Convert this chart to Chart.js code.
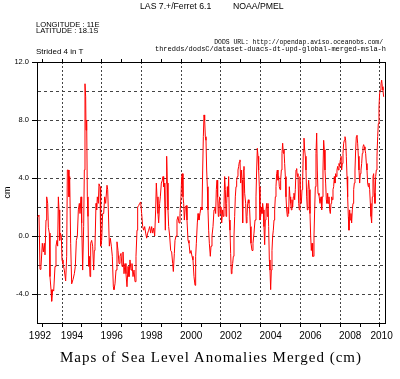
<!DOCTYPE html>
<html>
<head>
<meta charset="utf-8">
<title>Maps of Sea Level Anomalies Merged (cm)</title>
<script src="https://cdn.jsdelivr.net/npm/chart.js@4.4.0/dist/chart.umd.min.js"></script>
<style>
    body { margin: 0; background: #fff; }
    #quadro { position: relative; width: 400px; height: 379px; overflow: hidden; }
    #quadro canvas { position: absolute; left: 0; top: 0; }
    .rotulo { position: absolute; white-space: nowrap; color: #000; font-family: "Liberation Sans", Arial, sans-serif; }
    .mono { font-family: "Liberation Mono", "DejaVu Sans Mono", monospace; }
    .serifa { font-family: "Liberation Serif", "DejaVu Serif", serif; }
</style>
</head>
<body>
<div id="quadro">
    <canvas id="graficoNivelMar" width="400" height="379"></canvas>
    <div class="rotulo" style="left:140px;top:2px;font-size:8.7px;line-height:8.7px">LAS 7.+/Ferret 6.1</div>
    <div class="rotulo" style="left:233px;top:2px;font-size:8.7px;line-height:8.7px">NOAA/PMEL</div>
    <div class="rotulo" style="left:36px;top:20.5px;font-size:7.6px;line-height:7.6px">LONGITUDE : 11E</div>
    <div class="rotulo" style="left:36px;top:27px;font-size:7.6px;line-height:7.6px">LATITUDE : 18.1S</div>
    <div class="rotulo" style="left:36px;top:48px;font-size:8px;line-height:8px">Strided 4 in T</div>
    <div class="rotulo mono" style="right:17px;top:39px;font-size:6.4px;line-height:7px">DODS URL: http://opendap.aviso.oceanobs.com/</div>
    <div class="rotulo mono" style="right:14px;top:45.5px;font-size:7px;line-height:7px">thredds/dodsC/dataset-duacs-dt-upd-global-merged-msla-h</div>
    <div class="rotulo serifa" style="left:211px;top:350px;font-size:15px;line-height:15px;letter-spacing:1px;transform:translateX(-50%)">Maps of Sea Level Anomalies Merged (cm)</div>
</div>
<script>
// anos com marca no eixo (linhas tracejadas nos anos pares)
const yearTicks = [1993, 1994, 1995, 1996, 1997, 1998, 1999, 2000, 2001, 2002, 2003, 2004, 2005, 2006, 2007, 2008, 2009, 2010];
// rotulos dos anos, centrados no trecho visivel de cada ano
const yearLabels = ['1992', '1994', '1996', '1998', '2000', '2002', '2004', '2006', '2008', '2010'];
const yearLabelCenters = [1992.89, 1994.5, 1996.5, 1998.5, 2000.5, 2002.5, 2004.5, 2006.5, 2008.5, 2010.08];
const timeRange = [1992.742, 2010.252];
const cmRange = [-6, 12];

// anomalia do nivel do mar (cm), [ano decimal, valor]
const slaSeries = [
    [1992.776, 1.3], [1992.843, 1.45], [1992.893, -2.3], [1992.943, -2.1], [1993.010, -0.5], [1993.061, -1.1],
    [1993.111, -0.5], [1993.145, -1.3], [1993.195, 1.1], [1993.229, 2.7], [1993.279, 2.25], [1993.312, 0.6],
    [1993.363, 0.2], [1993.396, -2.8], [1993.447, -3.7], [1993.480, -4.5], [1993.530, -3.7], [1993.581, -3.8],
    [1993.648, -2.1], [1993.698, -0.7], [1993.748, -0.3], [1993.782, -0.7], [1993.816, 2.7], [1993.849, 1.8],
    [1993.883, -0.3], [1993.916, 0.2], [1993.966, 0], [1994.000, -1.65], [1994.050, -1.9], [1994.117, -2.35],
    [1994.184, -3.1], [1994.235, -1.4], [1994.268, 4.55], [1994.319, 4.55], [1994.352, 2.7], [1994.386, 4.1],
    [1994.436, -0.5], [1994.486, -3.3], [1994.554, -3.0], [1994.621, -2.6], [1994.671, -2.1], [1994.721, -0.3],
    [1994.772, 0], [1994.822, 1.8], [1994.872, 2.25], [1994.906, 1.55], [1994.956, 2.7], [1994.990, 0.9],
    [1995.040, -2.35], [1995.090, 0.65], [1995.124, 4.55], [1995.157, 10.5], [1995.191, 9.6], [1995.208, 7.3],
    [1995.241, 8.0], [1995.275, 2.7], [1995.308, 1.35], [1995.342, -2.1], [1995.375, -1.4], [1995.409, -2.8],
    [1995.442, -0.5], [1995.493, -0.3], [1995.543, -0.7], [1995.593, -2.35], [1995.627, -1.0], [1995.660, -0.7],
    [1995.711, 2.25], [1995.744, 1.8], [1995.778, 2.7], [1995.828, 2.25], [1995.862, 3.6], [1995.912, 3.4],
    [1995.945, -0.7], [1995.996, -0.3], [1996.046, 1.55], [1996.097, 1.55], [1996.147, 2.7], [1996.197, 2.25],
    [1996.264, 3.5], [1996.298, 3.2], [1996.331, 1.8], [1996.382, -0.7], [1996.432, -0.15], [1996.482, -0.7],
    [1996.532, -1.4], [1996.583, -3.5], [1996.616, -3.7], [1996.667, -3.3], [1996.717, -2.35], [1996.767, -0.4],
    [1996.818, -1.0], [1996.868, -1.9], [1996.918, -1.4], [1996.969, -1.2], [1997.019, -2.1], [1997.069, -1.1],
    [1997.120, -2.6], [1997.170, -1.9], [1997.220, -2.6], [1997.270, -3.5], [1997.321, -2.1], [1997.371, -2.8],
    [1997.421, -1.65], [1997.472, -2.35], [1997.522, -1.9], [1997.572, -2.8], [1997.623, -2.35], [1997.673, -3.15],
    [1997.723, -1.4], [1997.774, 0.4], [1997.807, 2.0], [1997.857, 2.1], [1997.908, 2.25], [1997.958, 2.35],
    [1998.008, 1.55], [1998.059, 0.65], [1998.109, 0.4], [1998.159, 0.65], [1998.210, 0.2], [1998.260, -0.15],
    [1998.310, 0.2], [1998.361, 0.4], [1998.411, 0.65], [1998.461, 0.2], [1998.512, 0.65], [1998.562, 0.2],
    [1998.612, 0.55], [1998.663, 0], [1998.713, 1.8], [1998.746, 3.65], [1998.780, 2.7], [1998.830, 1.55],
    [1998.864, 0.9], [1998.914, 2.25], [1998.948, 2.7], [1998.998, 3.65], [1999.048, 3.85], [1999.082, 4.1],
    [1999.115, 3.4], [1999.149, 3.65], [1999.199, 0.4], [1999.233, 3.65], [1999.266, 5.5], [1999.300, 3.65],
    [1999.333, 1.8], [1999.367, 0.65], [1999.417, 0], [1999.468, -1.0], [1999.518, -1.1], [1999.568, -1.9],
    [1999.602, -2.45], [1999.652, -1.2], [1999.686, -0.3], [1999.736, 0], [1999.786, 1.1], [1999.836, 1.35],
    [1999.887, 0.9], [1999.937, 1.55], [1999.987, 2.7], [2000.021, 4.1], [2000.054, 4.3], [2000.088, 2.7],
    [2000.122, 2.25], [2000.155, 1.1], [2000.205, 2.0], [2000.256, 2.1], [2000.289, 1.1], [2000.340, -0.3],
    [2000.390, -0.5], [2000.440, -1.2], [2000.491, -1.0], [2000.541, -1.4], [2000.591, -1.65], [2000.641, -2.8],
    [2000.692, -3.4], [2000.725, -1.4], [2000.759, -0.5], [2000.809, 0.9], [2000.843, 1.55], [2000.893, 1.1],
    [2000.943, 1.55], [2000.994, 2.0], [2001.044, 1.8], [2001.078, 4.55], [2001.111, 6.85], [2001.145, 8.35],
    [2001.178, 8.0], [2001.212, 6.85], [2001.245, 6.6], [2001.279, 4.55], [2001.312, 3.4], [2001.346, 1.8],
    [2001.379, 0.4], [2001.413, -0.5], [2001.463, -1.4], [2001.497, -0.7], [2001.547, 0], [2001.598, 0.65],
    [2001.648, 1.8], [2001.698, 2.0], [2001.732, 1.55], [2001.765, 3.2], [2001.799, 3.85], [2001.832, 2.7],
    [2001.866, 1.35], [2001.899, 2.25], [2001.933, 2.7], [2001.966, 1.55], [2002.000, 2.0], [2002.034, 0.9],
    [2002.084, 1.8], [2002.117, 1.35], [2002.151, 2.0], [2002.184, 4.1], [2002.218, 3.2], [2002.252, 1.35],
    [2002.285, 2.25], [2002.319, 3.4], [2002.352, 2.7], [2002.386, 4.1], [2002.419, 1.1], [2002.453, 0.4],
    [2002.486, -1.2], [2002.520, -2.6], [2002.553, -2.35], [2002.587, -1.9], [2002.621, -1.4], [2002.654, 0],
    [2002.688, 1.35], [2002.721, 2.7], [2002.755, 3.4], [2002.788, 3.85], [2002.822, 4.1], [2002.855, 4.55],
    [2002.889, 4.8], [2002.922, 5.1], [2002.956, 5.25], [2002.990, 3.65], [2003.023, 4.55], [2003.057, 3.85],
    [2003.090, 0.9], [2003.124, 4.55], [2003.157, 4.8], [2003.191, 2.95], [2003.241, 2.25], [2003.275, 0.9],
    [2003.308, 1.35], [2003.342, 2.25], [2003.375, 2.5], [2003.409, 2.25], [2003.442, 1.8], [2003.476, 0.65],
    [2003.509, -0.5], [2003.560, -1.0], [2003.610, -0.5], [2003.660, 0.2], [2003.711, 1.1], [2003.761, 2.7],
    [2003.794, 4.55], [2003.828, 6.05], [2003.862, 5.5], [2003.895, 4.55], [2003.929, 3.4], [2003.962, 1.1],
    [2003.996, 1.35], [2004.029, 2.0], [2004.063, 1.55], [2004.096, 2.25], [2004.130, 1.8], [2004.163, 0.65],
    [2004.197, -0.6], [2004.231, 1.1], [2004.264, 1.8], [2004.298, 2.25], [2004.331, 1.35], [2004.365, 2.25],
    [2004.398, 0.65], [2004.432, -1.65], [2004.465, -2.35], [2004.499, -3.7], [2004.532, -2.35], [2004.566, -1.0],
    [2004.600, 0], [2004.633, 0.4], [2004.667, 1.1], [2004.700, 1.8], [2004.734, 2.7], [2004.767, 3.4],
    [2004.801, 4.3], [2004.834, 4.55], [2004.868, 3.85], [2004.901, 4.1], [2004.935, 3.4], [2004.969, 3.2],
    [2005.002, 3.85], [2005.036, 4.55], [2005.069, 5.7], [2005.103, 6.4], [2005.136, 5.7], [2005.170, 5.95],
    [2005.203, 5.0], [2005.237, 4.1], [2005.270, 2.7], [2005.304, 1.8], [2005.338, 1.35], [2005.371, 2.0],
    [2005.405, 1.55], [2005.438, 3.4], [2005.472, 2.7], [2005.505, 2.25], [2005.539, 1.8], [2005.572, 2.5],
    [2005.606, 2.0], [2005.639, 2.7], [2005.673, 2.95], [2005.707, 2.5], [2005.740, 3.2], [2005.774, 4.55],
    [2005.807, 4.65], [2005.841, 4.1], [2005.874, 4.3], [2005.908, 2.25], [2005.941, 1.8], [2005.975, 4.1],
    [2006.008, 2.5], [2006.042, 2.25], [2006.076, 3.2], [2006.109, 3.85], [2006.143, 5.95], [2006.176, 6.75],
    [2006.210, 5.95], [2006.243, 5.5], [2006.277, 4.55], [2006.310, 2.7], [2006.344, 1.8], [2006.377, 3.2],
    [2006.411, 3.85], [2006.444, 3.2], [2006.478, 1.55], [2006.512, 0], [2006.545, -1.0], [2006.579, -0.5],
    [2006.612, -1.4], [2006.646, -1.4], [2006.679, 0], [2006.713, 1.8], [2006.746, 3.4], [2006.780, 5.7],
    [2006.814, 7.1], [2006.847, 4.55], [2006.881, 2.95], [2006.931, 2.8], [2006.981, 2.25], [2007.032, 2.7],
    [2007.065, 1.8], [2007.099, 2.7], [2007.132, 4.55], [2007.166, 6.6], [2007.199, 5.95], [2007.233, 4.55],
    [2007.266, 3.65], [2007.300, 2.5], [2007.333, 2.25], [2007.367, 2.95], [2007.400, 2.25], [2007.434, 2.7],
    [2007.468, 1.8], [2007.501, 1.55], [2007.535, 2.25], [2007.568, 2.7], [2007.602, 2.5], [2007.635, 3.2],
    [2007.669, 3.4], [2007.702, 4.1], [2007.736, 3.65], [2007.769, 4.3], [2007.803, 4.1], [2007.836, 4.55],
    [2007.870, 4.8], [2007.904, 4.55], [2007.937, 5.0], [2007.971, 4.8], [2008.004, 5.25], [2008.038, 5.5],
    [2008.071, 4.55], [2008.105, 5.0], [2008.138, 5.7], [2008.172, 6.4], [2008.206, 6.6], [2008.239, 6.85],
    [2008.273, 6.6], [2008.306, 5.5], [2008.340, 4.1], [2008.373, 2.7], [2008.407, 1.35], [2008.440, 0.4],
    [2008.474, 1.8], [2008.507, 1.1], [2008.541, 1.55], [2008.574, 0.9], [2008.608, 1.8], [2008.642, 2.25],
    [2008.675, 3.2], [2008.709, 3.65], [2008.742, 4.55], [2008.776, 5.95], [2008.809, 6.85], [2008.843, 6.95],
    [2008.876, 6.4], [2008.910, 5.5], [2008.943, 4.55], [2008.977, 3.65], [2009.010, 4.3], [2009.044, 4.55],
    [2009.078, 5.0], [2009.111, 5.7], [2009.145, 6.15], [2009.178, 6.3], [2009.212, 6.15], [2009.245, 5.95],
    [2009.279, 5.7], [2009.312, 5.0], [2009.346, 4.55], [2009.379, 3.65], [2009.413, 3.4], [2009.446, 3.65],
    [2009.480, 3.2], [2009.514, 2.25], [2009.547, 1.35], [2009.581, 0.9], [2009.614, 2.7], [2009.648, 4.1],
    [2009.681, 4.3], [2009.715, 2.95], [2009.748, 2.25], [2009.782, 4.1], [2009.815, 4.55], [2009.849, 5.5],
    [2009.883, 6.85], [2009.916, 7.75], [2009.950, 8.9], [2009.983, 9.85], [2010.017, 10.05], [2010.050, 10.5],
    [2010.084, 10.75], [2010.117, 10.3], [2010.151, 10.05], [2010.184, 9.6]
];

window.onload = function () {

    const corGrade = '#444';
    const transparente = 'rgba(0,0,0,0)';

    function ehAnoPar(valor) {
        return Number.isInteger(valor) && valor % 2 === 0;
    }

    const graficoNivelMar = document.getElementById('graficoNivelMar');

    new Chart(graficoNivelMar, {
        type: 'line',
        data: {
            datasets: [{
                label: 'Sea Level Anomalies',
                data: slaSeries.map(([ano, cm]) => ({ x: ano, y: cm })),
                borderColor: '#ff0000',
                borderWidth: 1,
                pointRadius: 0,
                tension: 0,
                fill: false
            }]
        },
        options: {
            responsive: false,
            animation: false,
            devicePixelRatio: 1,
            layout: {
                padding: { top: 59, right: 15, left: 0, bottom: 0 }
            },
            plugins: {
                legend: { display: false },
                tooltip: { enabled: false }
            },
            scales: {
                x: {
                    type: 'linear',
                    position: 'bottom',
                    min: timeRange[0],
                    max: timeRange[1],
                    afterBuildTicks: (eixo) => {
                        eixo.ticks = [...yearTicks, ...yearLabelCenters]
                            .sort((a, b) => a - b)
                            .map((v) => ({ value: v }));
                    },
                    afterFit: (eixo) => { eixo.height = 56; },
                    ticks: {
                        autoSkip: false,
                        maxRotation: 0,
                        padding: 3,
                        color: '#000',
                        font: { family: '"Liberation Sans", Arial, sans-serif', size: 10 },
                        callback: (valor) => {
                            const i = yearLabelCenters.indexOf(valor);
                            return i >= 0 ? yearLabels[i] : '';
                        }
                    },
                    grid: {
                        lineWidth: 1,
                        color: (ctx) => (ctx.tick && ehAnoPar(ctx.tick.value)) ? corGrade : transparente,
                        tickColor: (ctx) => (ctx.tick && Number.isInteger(ctx.tick.value)) ? '#000' : transparente,
                        tickLength: 4
                    },
                    border: { display: true, color: '#000', width: 1, dash: [2, 2] }
                },
                xTopo: {
                    type: 'linear',
                    position: 'top',
                    min: timeRange[0],
                    max: timeRange[1],
                    afterBuildTicks: (eixo) => {
                        eixo.ticks = yearTicks.map((v) => ({ value: v }));
                    },
                    afterFit: (eixo) => { eixo.height = 3; },
                    ticks: { display: false, autoSkip: false },
                    grid: { drawOnChartArea: false, tickLength: 3, tickColor: '#000' },
                    border: { display: true, color: '#000', width: 1 }
                },
                y: {
                    position: 'left',
                    min: cmRange[0],
                    max: cmRange[1],
                    afterFit: (eixo) => { eixo.width = 37; },
                    ticks: {
                        stepSize: 2,
                        padding: 3,
                        color: '#000',
                        font: { family: '"Liberation Sans", Arial, sans-serif', size: 7.5 },
                        callback: (valor) => valor % 4 === 0 ? valor.toFixed(1) : ''
                    },
                    title: {
                        display: true,
                        text: 'cm',
                        color: '#000',
                        padding: { top: 2, bottom: 0 },
                        font: { family: '"Liberation Sans", Arial, sans-serif', size: 9 }
                    },
                    grid: {
                        lineWidth: 1,
                        color: (ctx) => (ctx.tick && ctx.tick.value > cmRange[0] && ctx.tick.value < cmRange[1]) ? corGrade : transparente,
                        tickColor: (ctx) => (ctx.tick && ctx.tick.value % 4 === 0) ? '#000' : transparente,
                        tickLength: 5
                    },
                    border: { display: true, color: '#000', width: 1, dash: [3, 3] }
                },
                yDireita: {
                    position: 'right',
                    min: cmRange[0],
                    max: cmRange[1],
                    afterFit: (eixo) => { eixo.width = 0; },
                    ticks: { display: false },
                    grid: { display: false },
                    border: { display: true, color: '#000', width: 1 }
                }
            }
        }
    });
}
</script>
</body>
</html>
